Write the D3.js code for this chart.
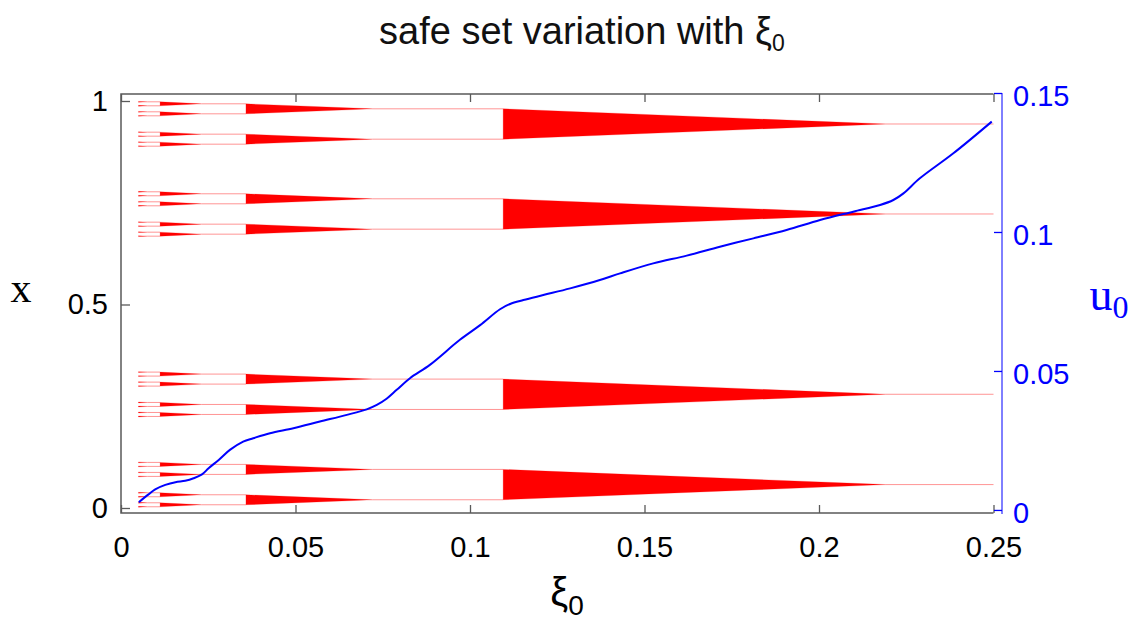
<!DOCTYPE html>
<html>
<head>
<meta charset="utf-8">
<script src="https://cdn.jsdelivr.net/npm/d3@7"></script>
<style>
  html, body { margin: 0; padding: 0; background: #fff; }
  svg { display: block; }
</style>
</head>
<body>
<svg id="chart" width="1134" height="630"></svg>
<script>
// ---- data ----------------------------------------------------------------
// Safe set: nested wedges; each level starts at levelStart, closes to a point at levelTip.
const levelStart     = [0.1095, 0.0358, 0.0112, 0.0037];
const levelTip       = [0.2192, 0.0722, 0.0232, 0.0076];
const levelHalfWidth = [0.0373, 0.0123, 0.0049, 0.0016];
// centres of the four outermost wedges (x)
const topCenters = [0.0575, 0.2794, 0.7224, 0.9435];
const xiRange = [0.005, 0.25];

// u0 as a function of xi0
const xi0 = [0.0051, 0.0079, 0.0098, 0.0127, 0.0156, 0.0184, 0.0208, 0.0232, 0.0251, 0.0280,
             0.0312, 0.0350, 0.0379, 0.0427, 0.0494, 0.0570, 0.0647, 0.0704, 0.0733, 0.0761,
             0.0790, 0.0828, 0.0885, 0.0971, 0.1029, 0.1086, 0.1115, 0.1153, 0.1210, 0.1287,
             0.1372, 0.1430, 0.1525, 0.1621, 0.1716, 0.1812, 0.1907, 0.2003, 0.2098, 0.2175,
             0.2213, 0.2242, 0.2289, 0.2385, 0.2495];
const u0  = [0.0028, 0.0056, 0.0074, 0.0090, 0.0100, 0.0105, 0.0114, 0.0128, 0.0150, 0.0180,
             0.0216, 0.0246, 0.0258, 0.0276, 0.0294, 0.0318, 0.0342, 0.0362, 0.0378, 0.0400,
             0.0432, 0.0474, 0.0522, 0.0612, 0.0665, 0.0722, 0.0741, 0.0755, 0.0773, 0.0797,
             0.0827, 0.0851, 0.0887, 0.0915, 0.0947, 0.0977, 0.1007, 0.1043, 0.1073, 0.1097,
             0.1115, 0.1139, 0.1193, 0.1283, 0.1397];

const xTicks  = [0, 0.05, 0.1, 0.15, 0.2, 0.25];
const yTicks  = [0, 0.5, 1];
const uTicks  = [0, 0.05, 0.1, 0.15];

// ---- layout --------------------------------------------------------------
const box = { left: 121, right: 993.5, top: 94, bottom: 513 };
const rightAxisX = 1002;
const sans  = "'Liberation Sans', Arial, sans-serif";
const serif = "'Liberation Serif', 'Times New Roman', serif";

const svg = d3.select("#chart");

const x  = d3.scaleLinear().domain([0, 0.25]).range([box.left, box.right]);
const y  = d3.scaleLinear().domain([-0.0123, 1.0172]).range([box.bottom, box.top]);
const yu = d3.scaleLinear().domain([-0.0011, 0.15]).range([box.bottom, 93]);

// ---- build wedges level by level ------------------------------------------
const wedges = [];
let centers = topCenters.slice();
levelStart.forEach((s0, k) => {
  const t = levelTip[k], h = levelHalfWidth[k];
  const s = Math.max(s0, xiRange[0]);
  const hs = h * (t - s) / (t - s0);
  const lineEnd = k === 0 ? xiRange[1] : levelStart[k - 1];
  centers.forEach(c => wedges.push({ level: k, c, s, hs, t, lineEnd }));
  centers = centers.flatMap(c => [c - h, c + h]);
});

const plot = svg.append("g");

// thin trailing lines (degenerate safe set beyond each tip)
plot.append("g").selectAll("line").data(wedges).join("line")
  .attr("x1", d => x(d.t)).attr("x2", d => x(d.lineEnd))
  .attr("y1", d => y(d.c)).attr("y2", d => y(d.c))
  .attr("stroke", "#ff0000").attr("stroke-opacity", 0.42).attr("stroke-width", 1);

// wedges
const poly = d3.line().x(p => x(p[0])).y(p => y(p[1]));
plot.append("g").selectAll("path").data(wedges).join("path")
  .attr("d", d => poly([[d.s, d.c - d.hs], [d.s, d.c + d.hs], [d.t, d.c]]) + "Z")
  .attr("fill", "#ff0000")
  .attr("stroke", "#ff0000").attr("stroke-opacity", 0.35).attr("stroke-width", 0.6);

// u0 curve
const uLine = d3.line().x((d, i) => x(xi0[i])).y((d, i) => yu(u0[i])).curve(d3.curveCatmullRom.alpha(0.5));
plot.append("path").datum(u0)
  .attr("d", uLine).attr("fill", "none")
  .attr("stroke", "#0000ff").attr("stroke-width", 2);

// ---- axes ----------------------------------------------------------------
const frameColor = "#5a5a5a";
const fmt = d3.format("~g");
const tickFont = 29;

// frame (left, top, bottom)
svg.append("path")
  .attr("d", `M${box.right},${box.top}H${box.left}V${box.bottom}H${box.right}`)
  .attr("fill", "none").attr("stroke", frameColor).attr("stroke-width", 1.5);

function styleAxis(g, color) {
  g.select(".domain").remove();
  g.selectAll(".tick line").attr("stroke", color).attr("stroke-width", 1.3);
  g.selectAll(".tick text").attr("fill", color === frameColor ? "#000" : color)
    .style("font-size", tickFont + "px").style("font-family", sans);
}

svg.append("g").attr("transform", `translate(0,${box.bottom})`)
  .call(d3.axisBottom(x).tickValues(xTicks).tickFormat(fmt).tickSizeInner(-8).tickSizeOuter(0).tickPadding(23))
  .call(g => styleAxis(g, frameColor));

svg.append("g").attr("transform", `translate(0,${box.top})`)
  .call(d3.axisTop(x).tickValues(xTicks).tickFormat("").tickSizeInner(-8).tickSizeOuter(0))
  .call(g => styleAxis(g, frameColor));

svg.append("g").attr("transform", `translate(${box.left},0)`)
  .call(d3.axisLeft(y).tickValues(yTicks).tickFormat(fmt).tickSizeInner(-9).tickSizeOuter(0).tickPadding(13))
  .call(g => styleAxis(g, frameColor));

// right axis for u0
svg.append("g").attr("transform", `translate(${rightAxisX},0)`)
  .call(d3.axisRight(yu).tickValues(uTicks).tickFormat(fmt).tickSizeInner(-8).tickSizeOuter(0).tickPadding(11))
  .call(g => styleAxis(g, "#0000ff"))
  .call(g => g.selectAll(".tick text").attr("dy", "0.42em"));
svg.append("line")
  .attr("x1", rightAxisX).attr("x2", rightAxisX).attr("y1", 93).attr("y2", box.bottom + 1)
  .attr("stroke", "#0000ff").attr("stroke-width", 1);

// ---- labels --------------------------------------------------------------
const title = svg.append("text").attr("x", 582).attr("y", 44)
  .attr("text-anchor", "middle").style("font-family", sans).style("font-size", "38px")
  .attr("fill", "#111");
title.append("tspan").text("safe set variation with ξ");
title.append("tspan").style("font-size", "23px").attr("dy", 7).text("0");

svg.append("text").attr("x", 21).attr("y", 302).attr("text-anchor", "middle")
  .style("font-family", serif).style("font-size", "42px")
  .attr("fill", "#000").text("x");

const xl = svg.append("text").attr("x", 567).attr("y", 606).attr("text-anchor", "middle")
  .style("font-family", sans).style("font-size", "40px").attr("fill", "#000");
xl.append("tspan").text("ξ");
xl.append("tspan").style("font-size", "28px").attr("dy", 9).text("0");

const ul = svg.append("text").attr("x", 1109).attr("y", 310).attr("text-anchor", "middle")
  .style("font-family", serif).style("font-size", "46px")
  .attr("fill", "#0000ff");
ul.append("tspan").text("u");
ul.append("tspan").style("font-size", "32px").attr("dy", 8).text("0");
</script>
</body>
</html>
